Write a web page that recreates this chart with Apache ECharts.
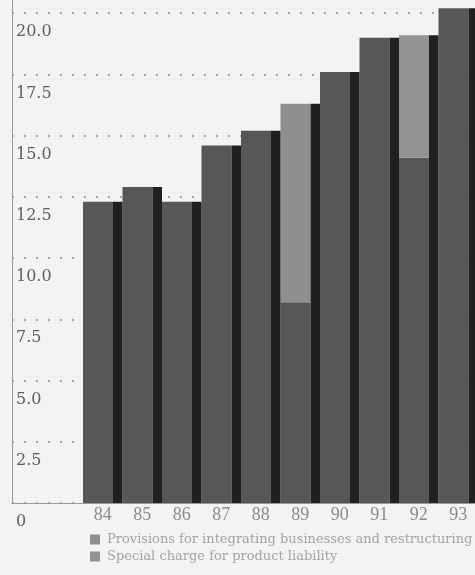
<!DOCTYPE html>
<html>
<head>
<meta charset="utf-8">
<script src="https://cdn.jsdelivr.net/npm/echarts@6/dist/echarts.min.js"></script>
<style>
html, body { margin: 0; padding: 0; background: #f3f3f1; }
#chart { width: 475px; height: 575px; }
</style>
</head>
<body>
<div id="chart"></div>
<script>
var years = ['84', '85', '86', '87', '88', '89', '90', '91', '92', '93'];
// base part of each bar
var baseValues = [12.3, 12.9, 12.3, 14.6, 15.2, 8.2, 17.6, 19.0, 14.1, 20.2];
// lighter segments on top
var provisions = [null, null, null, null, null, 8.1, null, null, null, null];
var productLiability = [null, null, null, null, null, null, null, null, 5.0, null];
var yTicks = { min: 0, max: 22.5, step: 2.5 };

var legendNames = ['Provisions for integrating businesses and restructuring', 'Special charge for product liability'];

// totals for the dark right-hand side of each bar
var totals = [];
for (var i = 0; i < years.length; i++) {
	totals.push(baseValues[i] + (provisions[i] || 0) + (productLiability[i] || 0));
}

var myChart = echarts.init(document.getElementById('chart'));
var serif = '"DejaVu Serif", "Liberation Serif", serif';

var option = {
	backgroundColor: '#f3f3f1',
	animation: false,
	grid: [
		{ left: 83, width: 395, top: -48, height: 551, outerBoundsMode: 'none' },
		{ left: 12, right: 0, top: -48, height: 551, outerBoundsMode: 'none' }
	],
	xAxis: [{
		type: 'category',
		gridIndex: 0,
		data: years,
		axisLine: { show: false },
		axisTick: { show: false },
		axisLabel: { color: '#8a8a8a', fontFamily: '"Liberation Serif", serif', fontSize: 18, margin: 3 }
	}, {
		type: 'value',
		gridIndex: 1,
		min: 0,
		max: 1,
		axisLine: { show: true, lineStyle: { color: '#9a9a9a', width: 1 } },
		axisTick: { show: false },
		axisLabel: { show: false },
		splitLine: { show: false }
	}],
	yAxis: [{
		type: 'value',
		gridIndex: 0,
		min: yTicks.min,
		max: yTicks.max,
		interval: yTicks.step,
		show: false
	}, {
		type: 'value',
		gridIndex: 1,
		min: yTicks.min,
		max: yTicks.max,
		interval: yTicks.step,
		axisLine: { show: true, lineStyle: { color: '#9a9a9a', width: 1 } },
		axisTick: { show: false },
		axisLabel: {
			inside: true,
			margin: 4,
			align: 'left',
			verticalAlign: 'top',
			padding: [11, 0, 0, 0],
			color: '#5e5e5e',
			fontFamily: serif,
			fontSize: 16,
			formatter: function (v) { return v === 0 ? '0' : v.toFixed(1); }
		},
		splitLine: { show: true, lineStyle: { color: '#8c8c8c', type: [2, 10], width: 1.5 } }
	}],
	legend: {
		orient: 'vertical',
		left: 90,
		top: 533,
		padding: 0,
		itemWidth: 10,
		itemHeight: 10,
		itemGap: 4,
		icon: 'rect',
		data: legendNames,
		textStyle: { color: '#a3a3a3', fontFamily: serif, fontSize: 13, padding: [0, 0, 0, 2] }
	},
	series: [{
		name: 'base',
		type: 'bar',
		stack: 'face',
		xAxisIndex: 0,
		yAxisIndex: 0,
		barWidth: 30,
		barGap: '0%',
		data: baseValues,
		itemStyle: { color: '#575757' }
	}, {
		name: legendNames[0],
		type: 'bar',
		stack: 'face',
		xAxisIndex: 0,
		yAxisIndex: 0,
		barWidth: 30,
		data: provisions,
		itemStyle: { color: '#8f8f8f' }
	}, {
		name: legendNames[1],
		type: 'bar',
		stack: 'face',
		xAxisIndex: 0,
		yAxisIndex: 0,
		barWidth: 30,
		data: productLiability,
		itemStyle: { color: '#939393' }
	}, {
		name: 'side',
		type: 'bar',
		xAxisIndex: 0,
		yAxisIndex: 0,
		barWidth: 9.5,
		barGap: '0%',
		data: totals,
		itemStyle: { color: '#202020' }
	}]
};
myChart.setOption(option);
</script>
</body>
</html>
